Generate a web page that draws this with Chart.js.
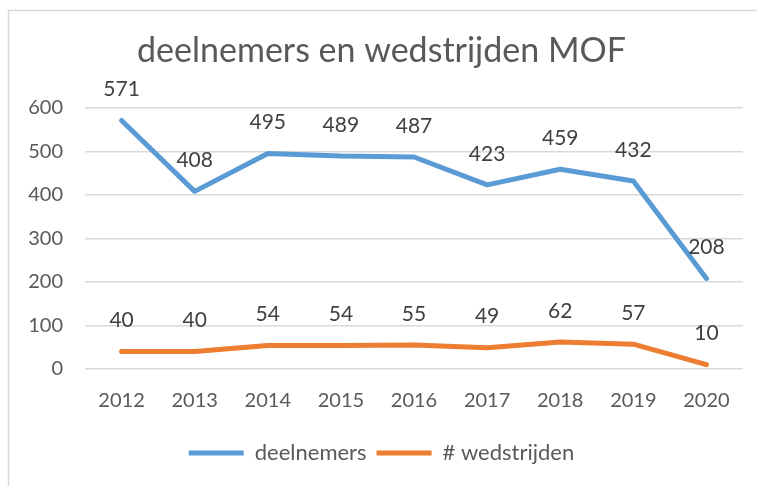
<!DOCTYPE html>
<html><head><meta charset="utf-8">
<script src="https://cdn.jsdelivr.net/npm/chart.js@4"></script>
<style>html,body{margin:0;padding:0;background:#fff;}#wrap{width:757px;height:486px;position:relative;}</style>
</head><body><div id="wrap"><canvas id="c" width="757" height="486"></canvas></div>
<script>
const years = ['2012','2013','2014','2015','2016','2017','2018','2019','2020'];
const deelnemers = [571,408,495,489,487,423,459,432,208];
const wedstrijden = [40,40,54,54,55,49,62,57,10];
const yTicks = [0,100,200,300,400,500,600];
const FONT = 'Lato, "Open Sans", sans-serif';

const borderPlugin = {
  id:'border',
  beforeDraw(chart){
    const ctx = chart.ctx;
    ctx.save();
    ctx.fillStyle='#fff';ctx.fillRect(0,0,chart.width,chart.height);
    ctx.strokeStyle='#d9d9d9';ctx.lineWidth=1.5;
    ctx.beginPath();
    ctx.moveTo(8.5,chart.height+2);ctx.lineTo(8.5,10.5);ctx.lineTo(chart.width+2,10.5);
    ctx.stroke();ctx.restore();
  }
};
const labelPlugin = {
  id:'labels',
  afterDatasetsDraw(chart){
    const ctx = chart.ctx;
    ctx.save();
    ctx.font='21px '+FONT;ctx.fillStyle='#404040';ctx.textAlign='center';ctx.textBaseline='middle';
    chart.data.datasets.forEach((ds,i)=>{
      chart.getDatasetMeta(i).data.forEach((pt,j)=>{
        ctx.fillText(String(ds.data[j]),pt.x,pt.y-31);
      });
    });
    ctx.restore();
  }
};

new Chart(document.getElementById('c'),{
  type:'line',
  data:{labels:years,datasets:[
    {label:'deelnemers',data:deelnemers,borderColor:'#5B9BD5',backgroundColor:'#5B9BD5',borderWidth:5,pointRadius:0,borderCapStyle:'round',borderJoinStyle:'round',tension:0},
    {label:'# wedstrijden',data:wedstrijden,borderColor:'#ED7D31',backgroundColor:'#ED7D31',borderWidth:5,pointRadius:0,borderCapStyle:'round',borderJoinStyle:'round',tension:0}
  ]},
  options:{
    responsive:false,animation:false,
    layout:{padding:{top:10,left:20,right:14,bottom:12}},
    plugins:{
      title:{display:true,text:'deelnemers en wedstrijden MOF',color:'#595959',font:{family:FONT,size:34,weight:'normal'},padding:{top:21,bottom:36}},
      legend:{position:'bottom',labels:{usePointStyle:true,pointStyle:'line',pointStyleWidth:55,color:'#595959',font:{family:FONT,size:22},padding:10}},
      tooltip:{enabled:false}
    },
    scales:{
      x:{offset:true,grid:{display:false,drawTicks:false},border:{display:false},
         ticks:{color:'#595959',font:{family:FONT,size:20},padding:20},
         afterFit(s){s.height=63;}},
      y:{min:0,max:600,grid:{color:'#d9d9d9',lineWidth:1.5,drawTicks:false},border:{display:false},
         afterBuildTicks(s){s.ticks=yTicks.map(v=>({value:v}));},
         ticks:{color:'#595959',font:{family:FONT,size:20},padding:22},
         afterFit(s){s.width=65;}}
    }
  },
  plugins:[borderPlugin,labelPlugin]
});
</script></body></html>
